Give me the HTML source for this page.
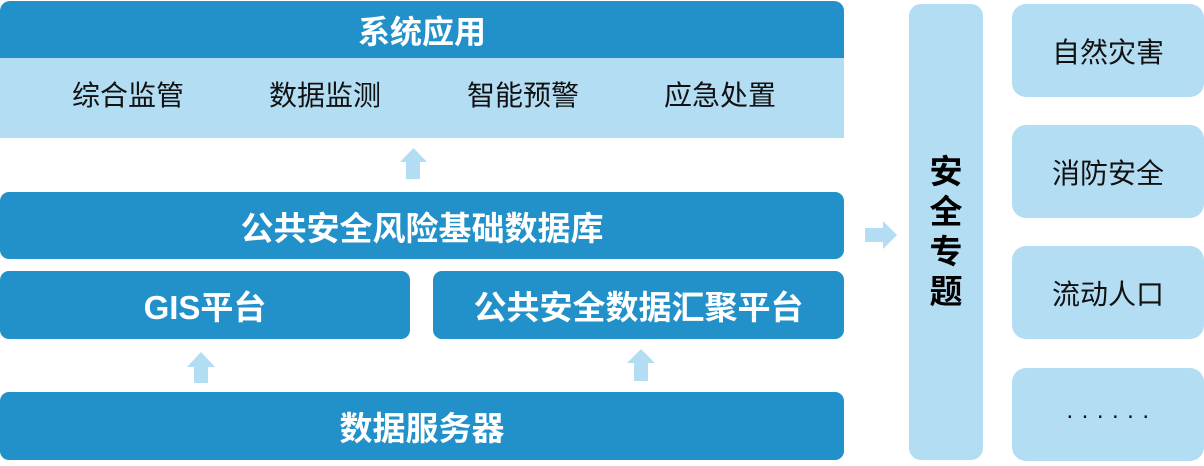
<!DOCTYPE html>
<html><head><meta charset="utf-8"><style>
*{margin:0;padding:0;box-sizing:border-box}
body{width:1204px;height:466px;background:#fff;position:relative;overflow:hidden;font-family:"Liberation Sans","Noto Sans CJK SC",sans-serif}
.b{position:absolute;display:flex;align-items:center;justify-content:center;white-space:nowrap}
.dk{background:#2291c9;color:#fff;font-weight:700;font-size:33px;border-radius:9px}
.lt{background:#b3ddf2;color:#111;font-size:28px;border-radius:14px}
.t{position:absolute;font-size:28px;color:#111;white-space:nowrap;text-align:center;width:160px;line-height:30px}
svg{position:absolute;left:0;top:0}
</style></head><body>
<!-- top box -->
<div class="b dk" style="left:0;top:1px;width:844px;height:57px;border-radius:10px 10px 0 0;font-size:32px">系统应用</div>
<div style="position:absolute;left:0;top:58px;width:844px;height:80px;background:#b3ddf2"></div>
<div class="t" style="left:48px;top:81px">综合监管</div>
<div class="t" style="left:245px;top:81px">数据监测</div>
<div class="t" style="left:443px;top:81px">智能预警</div>
<div class="t" style="left:640px;top:81px">应急处置</div>

<div class="b dk" style="left:0;top:192px;width:844px;height:67px">公共安全风险基础数据库</div>
<div class="b dk" style="left:0;top:271px;width:410px;height:68px">GIS平台</div>
<div class="b dk" style="left:433px;top:271px;width:411px;height:68px">公共安全数据汇聚平台</div>
<div class="b dk" style="left:0;top:392px;width:844px;height:68px">数据服务器</div>

<div class="b" style="left:909px;top:4px;width:74px;height:456px;background:#b3ddf2;border-radius:12px;flex-direction:column;font-weight:700;font-size:33px;color:#000;line-height:40px;white-space:normal;text-align:center">安<br>全<br>专<br>题</div>

<div class="b lt" style="left:1012px;top:4px;width:192px;height:93px">自然灾害</div>
<div class="b lt" style="left:1012px;top:125px;width:192px;height:93px">消防安全</div>
<div class="b lt" style="left:1012px;top:246px;width:192px;height:93px">流动人口</div>
<div class="b lt" style="left:1012px;top:368px;width:192px;height:93px;letter-spacing:8.5px;padding-left:8px;font-family:'Liberation Sans',sans-serif;font-size:24px;padding-bottom:8px">......</div>

<svg width="1204" height="466">
<polygon fill="#b3ddf2" points="400,162 413.5,148 427,162 420,162 420,179 406,179 406,162"/>
<polygon fill="#b3ddf2" points="187,367 201,352 215,367 208,367 208,383 194,383 194,367"/>
<polygon fill="#b3ddf2" points="627,363 641,349 655,363 648,363 648,381 634,381 634,363"/>
<polygon fill="#b3ddf2" points="865,228 883,228 883,221 897,235 883,249 883,242 865,242"/>
</svg>
</body></html>
